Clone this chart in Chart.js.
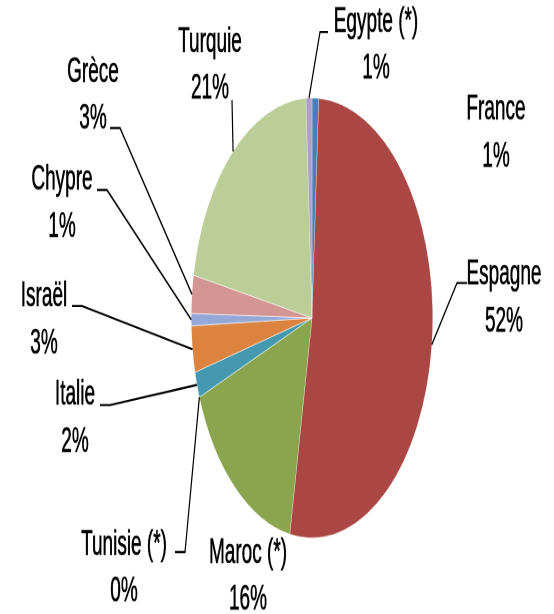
<!DOCTYPE html>
<html>
<head>
<meta charset="utf-8">
<script src="https://cdn.jsdelivr.net/npm/chart.js@4.4.0/dist/chart.umd.min.js"></script>
<style>
    html, body { margin: 0; padding: 0; background: #fff; overflow: hidden; }
    /* the reference pie is an ellipse: draw a round pie, then stretch it vertically */
    #wrap {
        position: absolute; left: 0; top: 0;
        width: 554px; height: 337px;
        transform: scaleY(1.8220); transform-origin: 0 0;
    }
</style>
</head>
<body>
<div id="wrap"><canvas id="pieChart"></canvas></div>
<script>
    // Data (share of total, %)
    const countries = ['France', 'Espagne', 'Maroc (*)', 'Tunisie (*)', 'Italie', 'Israël', 'Chypre', 'Grèce', 'Turquie', 'Egypte (*)'];
    const shares = [0.9, 52.1, 16.2, 0, 1.9, 3.4, 0.9, 2.8, 21.1, 0.8];
    const sliceColors = ['#4A7EBB', '#AA4644', '#8BA54F', '#7F63A1', '#4499B0', '#DC843F', '#95A9D8', '#D49693', '#BBCE97', '#AE9FC8'];

    // Label layout (page pixels): first line centre, leader start and elbow
    const STRETCH = 614 / 337;
    const labelX = [496, 504, 248, 124, 75, 44, 62, 93, 210, 376];
    const labelY = [110, 275, 553, 545, 395, 297, 180, 72, 42, 22];
    const leaderStart = [null, [467, 283], null, [175, 552], [100, 405], [72, 306], [97, 190], [110, 128], [232, 100], [328, 32]];
    const leaderElbow = [null, [457, 283], null, [185, 552], [110, 405], [82, 306], [107, 190], [120, 128], null, [320, 32]];
    const LINE_GAP = 47;
    const TEXT_SCALE_X = 1.0;

    const total = shares.reduce((a, b) => a + b, 0);

    const labelPlugin = {
        id: 'outsideLabels',
        afterDraw(chart) {
            const ctx = chart.ctx;
            const meta = chart.getDatasetMeta(0);
            ctx.save();
            ctx.fillStyle = '#000';
            ctx.strokeStyle = '#000';
            ctx.font = '19px "Liberation Sans", Arial, sans-serif';
            ctx.textAlign = 'center';
            ctx.textBaseline = 'middle';

            meta.data.forEach((arc, i) => {
                const p = arc.getProps(['x', 'y', 'startAngle', 'endAngle', 'outerRadius'], true);
                const mid = (p.startAngle + p.endAngle) / 2;
                const ex = p.x + Math.cos(mid) * p.outerRadius;
                const ey = p.y + Math.sin(mid) * p.outerRadius;

                if (leaderStart[i]) {
                    ctx.lineWidth = 1.2;
                    ctx.beginPath();
                    ctx.moveTo(leaderStart[i][0], leaderStart[i][1] / STRETCH);
                    if (leaderElbow[i]) ctx.lineTo(leaderElbow[i][0], leaderElbow[i][1] / STRETCH);
                    ctx.lineTo(ex, ey);
                    ctx.stroke();
                }

                const pct = Math.round(shares[i] / total * 100) + '%';
                [countries[i], pct].forEach((txt, line) => {
                    ctx.save();
                    ctx.translate(labelX[i], (labelY[i] + line * LINE_GAP) / STRETCH);
                    ctx.scale(TEXT_SCALE_X, 1);
                    ctx.lineWidth = 0.35;
                    ctx.fillText(txt, 0, 0);
                    ctx.strokeText(txt, 0, 0);
                    ctx.restore();
                });
            });
            ctx.restore();
        }
    };

    const ctx = document.getElementById('pieChart').getContext('2d');
    new Chart(ctx, {
        type: 'pie',
        data: {
            labels: countries,
            datasets: [{
                data: shares,
                backgroundColor: sliceColors,
                borderColor: 'rgba(255, 255, 255, 0.6)',
                borderWidth: 0.5
            }]
        },
        options: {
            responsive: true,
            maintainAspectRatio: false,
            devicePixelRatio: 2,
            animation: false,
            events: [],
            layout: {
                padding: { left: 191, right: 121, top: 53.5, bottom: 41.5 }
            },
            plugins: {
                legend: { display: false },
                tooltip: { enabled: false }
            }
        },
        plugins: [labelPlugin]
    });
</script>
</body>
</html>
